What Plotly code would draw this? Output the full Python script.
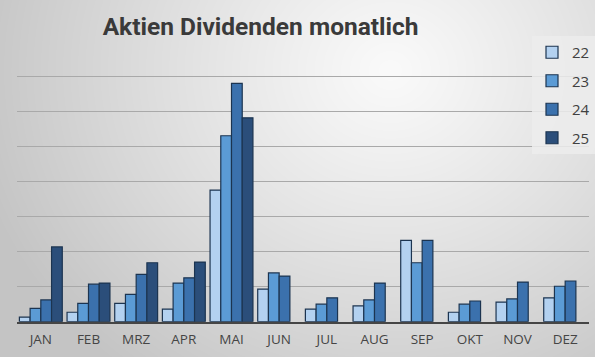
import base64, struct, zlib
import numpy as np
import plotly.graph_objects as go

# ---- data ----
months = ["JAN", "FEB", "MRZ", "APR", "MAI", "JUN", "JUL", "AUG", "SEP", "OKT", "NOV", "DEZ"]
y22 = [0.13, 0.27, 0.52, 0.36, 3.75, 0.93, 0.36, 0.45, 2.32, 0.27, 0.56, 0.68]
y23 = [0.38, 0.52, 0.78, 1.10, 5.30, 1.39, 0.50, 0.62, 1.68, 0.50, 0.65, 1.01]
y24 = [0.62, 1.07, 1.35, 1.25, 6.79, 1.30, 0.68, 1.10, 2.32, 0.59, 1.13, 1.16]
y25 = [2.13, 1.10, 1.68, 1.70, 5.81, None, None, None, None, None, None, None]
series_names = ["22", "23", "24", "25"]
series_values = [y22, y23, y24, y25]
colors = ["#b3d1f0", "#5b9bd5", "#3b71ad", "#2b4e7a"]

W, H = 595, 357

# ---- background gradient image (decoration) ----
def make_png(w, h):
    yy, xx = np.mgrid[0:h, 0:w].astype(float)
    cx, cy = 390.0, 70.0
    d = np.sqrt(((xx - cx) / 1.0) ** 2 + ((yy - cy) / 0.9) ** 2)
    t = np.clip(d / 430.0, 0, 1)
    v = 250 - (250 - 196) * t ** 1.1
    img = np.clip(v, 0, 255).astype(np.uint8)
    rgb = np.stack([img, img, img], axis=-1)
    raw = b"".join(b"\x00" + rgb[r].tobytes() for r in range(h))
    def chunk(tag, data):
        c = struct.pack(">I", len(data)) + tag + data
        return c + struct.pack(">I", zlib.crc32(tag + data) & 0xffffffff)
    png = b"\x89PNG\r\n\x1a\n"
    png += chunk(b"IHDR", struct.pack(">IIBBBBB", w, h, 8, 2, 0, 0, 0))
    png += chunk(b"IDAT", zlib.compress(raw, 9))
    png += chunk(b"IEND", b"")
    return "data:image/png;base64," + base64.b64encode(png).decode()

fig = go.Figure()
for name, vals, col in zip(series_names, series_values, colors):
    fig.add_trace(go.Bar(
        x=months, y=vals, name=name, legendgroup=name,
        marker=dict(color=col, line=dict(color="#1c3450", width=1.2)),
    ))

fig.update_layout(
    template="none",
    width=W, height=H,
    margin=dict(l=0, r=0, t=0, b=0, autoexpand=False),
    paper_bgcolor="#e0e0e0",
    plot_bgcolor="rgba(0,0,0,0)",
    barmode="group", bargap=0.1, bargroupgap=0,
    images=[dict(source=make_png(W, H), xref="paper", yref="paper",
                 x=0, y=1, sizex=1, sizey=1, xanchor="left", yanchor="top",
                 sizing="stretch", layer="below")],
    title=dict(text="<b>Aktien Dividenden monatlich</b>", x=0.438, xanchor="center",
               y=0.925, yanchor="middle",
               font=dict(family="Roboto, sans-serif", size=24.5, color="#3a3a3a")),
    xaxis=dict(domain=[17 / W, 589 / W], showgrid=False, showline=True,
               linecolor="#454545", linewidth=2, ticks="", automargin=False,
               ticklabelstandoff=4,
               tickfont=dict(family="Open Sans, sans-serif", size=13.5, color="#454545")),
    yaxis=dict(domain=[(H - 321.7) / H, (H - 41) / H], range=[0, 8], dtick=1,
               showgrid=True, gridcolor="#a9a9a9", gridwidth=1, automargin=False,
               showticklabels=False, zeroline=False, ticks=""),
    legend=dict(x=532 / W, y=1 - 36 / H, xanchor="left", yanchor="top",
                bgcolor="rgba(236,236,236,0.85)", traceorder="grouped",
                tracegroupgap=6, itemwidth=30,
                font=dict(family="Open Sans, sans-serif", size=15, color="#404040")),
    showlegend=True,
)

fig.write_html(
    "out.html",
    config={"displayModeBar": False},
    post_script="document.body.style.margin='0';document.body.style.overflow='hidden';",
)
